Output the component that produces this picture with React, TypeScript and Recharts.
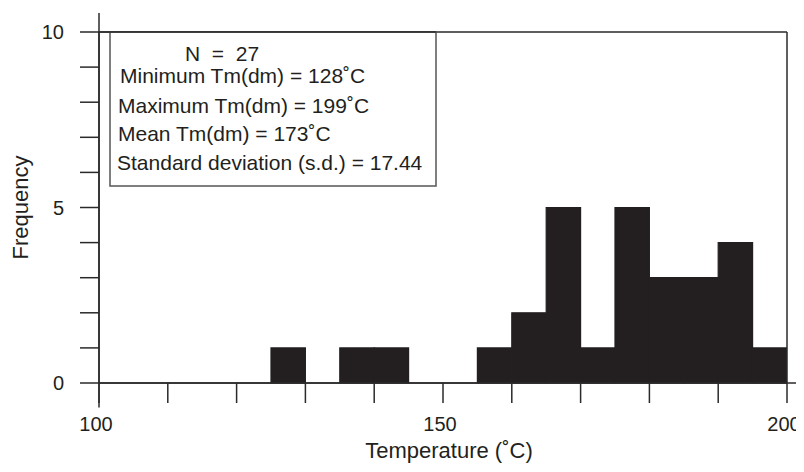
import React from 'react';
import { BarChart, Bar, XAxis, YAxis, ReferenceLine } from 'recharts';

const binStarts = [100, 105, 110, 115, 120, 125, 130, 135, 140, 145, 150, 155, 160, 165, 170, 175, 180, 185, 190, 195];
const binWidth = 5;
const frequencies = [0, 0, 0, 0, 0, 1, 0, 1, 1, 0, 0, 1, 2, 5, 1, 5, 3, 3, 4, 1];
const xTicks = [100, 110, 120, 130, 140, 150, 160, 170, 180, 190, 200];
const xLabelled = [100, 150, 200];
const yTicks = [0, 1, 2, 3, 4, 5, 6, 7, 8, 9, 10];
const yLabelled = [0, 5, 10];
const statLines = [
  'N\u00a0\u00a0=\u00a0\u00a027',
  'Minimum Tm(dm) = 128˚C',
  'Maximum Tm(dm) = 199˚C',
  'Mean Tm(dm) = 173˚C',
  'Standard deviation (s.d.) = 17.44',
];

const data = binStarts.map((b, i) => ({ mid: b + binWidth / 2, freq: frequencies[i] }));

const FONT = '"Liberation Sans", Arial, Helvetica, sans-serif';
const INK = '#231f20';
const AX = '#2a2a2a';

export default function App() {
  const W = 796;
  const H = 456;
  const margin = { top: 24, right: 17, bottom: 0, left: 0 };
  const yAxisW = 91;
  const plotW = W - margin.left - margin.right - yAxisW;
  const barPx = plotW / binStarts.length - 0.02;
  const lineX = [177, 112, 110, 110, 109];
  const lineY = [53, 75, 105, 133, 162];
  return (
    <div style={{ position: 'relative', width: W, height: H, fontFamily: FONT }}>
      <BarChart
        width={W}
        height={H}
        data={data}
        barCategoryGap={0}
        barGap={0}
        margin={margin}
        style={{ overflow: 'visible' }}
      >
        <XAxis
          dataKey="mid"
          type="number"
          domain={[100, 200]}
          ticks={xTicks}
          interval={0}
          allowDataOverflow
          height={81}
          tickSize={20}
          tickMargin={14}
          axisLine={{ stroke: AX, strokeWidth: 1.5 }}
          tickLine={{ stroke: AX, strokeWidth: 1.5 }}
          tick={{ fill: INK, fontSize: 20, fontFamily: FONT, dx: -3 }}
          tickFormatter={(v: number) => (xLabelled.includes(v) ? String(v) : '')}
          label={{ value: 'Temperature (˚C)', position: 'insideBottom', offset: 6, dx: 6, fill: INK, fontSize: 22, fontFamily: FONT }}
        />
        <YAxis
          type="number"
          domain={[0, 10]}
          ticks={yTicks}
          interval={0}
          width={yAxisW}
          tickSize={19}
          tickMargin={16}
          axisLine={{ stroke: AX, strokeWidth: 1.5 }}
          tickLine={{ stroke: AX, strokeWidth: 1.5 }}
          tick={{ fill: INK, fontSize: 20, fontFamily: FONT }}
          tickFormatter={(v: number) => (yLabelled.includes(v) ? String(v) : '')}
          label={{ value: 'Frequency', angle: -90, position: 'insideLeft', offset: 12, style: { textAnchor: 'middle' }, fill: INK, fontSize: 22, fontFamily: FONT }}
        />
        <Bar dataKey="freq" fill={INK} stroke={INK} strokeWidth={1.2} barSize={barPx} isAnimationActive={false} />
        <ReferenceLine ifOverflow="visible" stroke={AX} strokeWidth={1.5}
          segment={[{ x: 100, y: -0.7 }, { x: 100, y: 10.54 }]} />
        <ReferenceLine ifOverflow="visible" stroke={AX} strokeWidth={1.5}
          segment={[{ x: 100, y: 0 }, { x: 202.5, y: 0 }]} />
        <ReferenceLine ifOverflow="visible" stroke={AX} strokeWidth={1.5}
          segment={[{ x: 100, y: 10 }, { x: 200, y: 10 }]} />
        <ReferenceLine ifOverflow="visible" stroke={AX} strokeWidth={1.5}
          segment={[{ x: 200, y: 0 }, { x: 200, y: 10 }]} />
      </BarChart>
      <svg
        width={W}
        height={H}
        style={{ position: 'absolute', left: 0, top: 0, pointerEvents: 'none' }}
      >
        <rect x={102} y={24} width={326} height={154} fill="#fff" stroke="#555" strokeWidth={1.5} />
        {statLines.map((t, i) => (
          <text key={i} x={lineX[i]} y={lineY[i]} fill={INK} fontSize={21} fontFamily={FONT}>
            {t}
          </text>
        ))}
        <line x1={91} y1={24} x2={428} y2={24} stroke={AX} strokeWidth={1.5} />
      </svg>
    </div>
  );
}
